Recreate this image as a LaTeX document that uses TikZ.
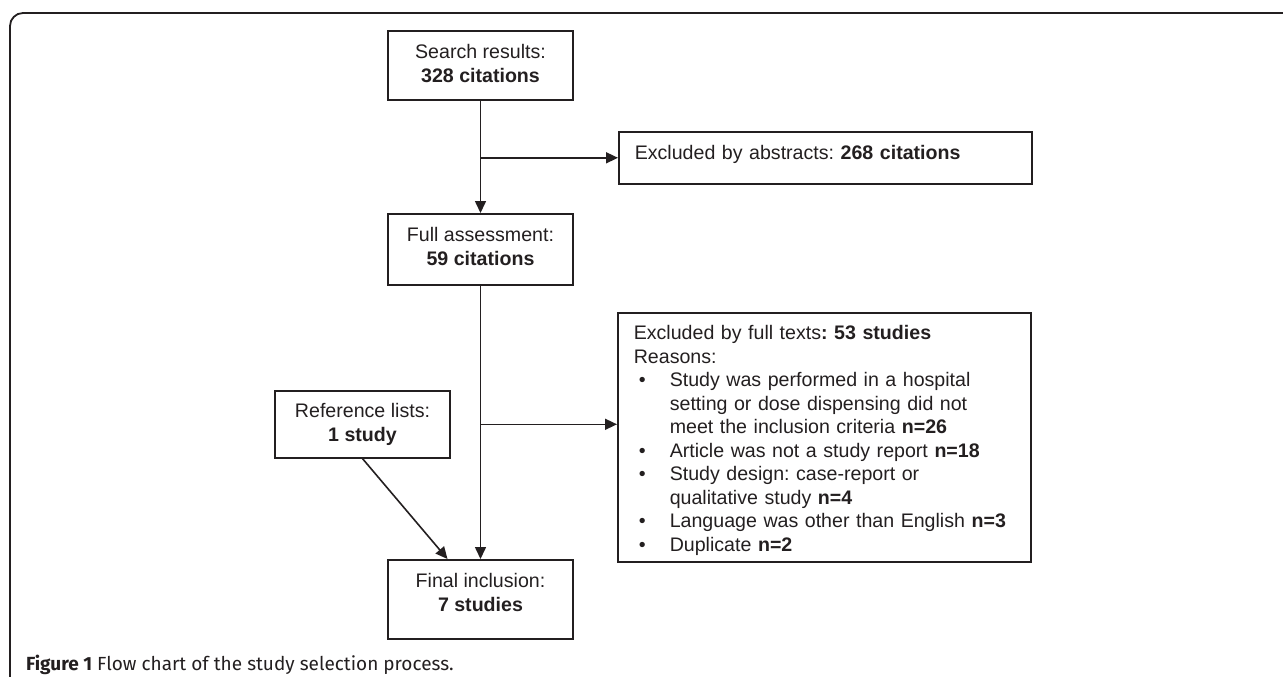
\documentclass[tikz,border=0pt]{standalone}
\usepackage{fontspec}
\setmainfont{Liberation Sans}
\newfontfamily\capfont{Fira Sans}
\usepackage{tikz}
\usetikzlibrary{positioning,arrows.meta,calc}
\definecolor{ink}{HTML}{231F20}
\newcommand{\itm}{\makebox[36pt][l]{\hspace{5pt}\textbullet}}
\newcommand{\cnt}{\hspace{36pt}}
\frenchspacing

\begin{document}
\begin{tikzpicture}[x=1pt, y=-1pt, color=ink, line width=1.6pt,
  >={Triangle[length=12pt,width=11pt]},
  box/.style={draw, rectangle, anchor=north, inner xsep=0pt, inner ysep=0pt,
    text height=51.5pt, align=center, minimum width=185pt,
    font=\fontsize{19.6}{23.5}\selectfont},
  widebox/.style={box, anchor=north west, align=left, inner xsep=16pt,
    text height=28pt, text width=381pt, minimum width=0pt}]
  \useasboundingbox (0,0) rectangle (1283,677);
  \draw[line width=1.8pt, rounded corners=13pt] (10,677) -- (10,13) -- (1283,13);

  \node[box, text depth=17.5pt] (search) at (480.5,30) {Search results:\\\textbf{328 citations}};
  \node[widebox, text depth=24pt] (excl1) at (618,131) {Excluded by abstracts: \textbf{268 citations}};
  \node[box, text depth=19.5pt] (full) at (480.5,213) {Full assessment:\\\textbf{59 citations}};
  \node[widebox, text height=27pt, text depth=222pt] (excl2) at (617,312)
  {Excluded by full texts\textbf{: 53 studies}\\
   Reasons:\\
   \itm Study was performed in a hospital\\
   \cnt setting or dose dispensing did not\\
   \cnt meet the inclusion criteria \textbf{n=26}\\
   \itm Article was not a study report \textbf{n=18}\\
   \itm Study design: case-report or\\
   \cnt qualitative study \textbf{n=4}\\
   \itm Language was other than English \textbf{n=3}\\
   \itm Duplicate \textbf{n=2}};
  \node[box, minimum width=175pt, text height=50.5pt, text depth=16.5pt] (reflist) at (362.5,390) {Reference lists:\\\textbf{1 study}};
  \node[box, text depth=27.5pt] (final) at (480.5,559) {Final inclusion:\\\textbf{7 studies}};
  \node[anchor=west, font=\capfont\fontsize{19}{22}\selectfont] (caption) at (22,665)
  {\textbf{Figure 1} Flow chart of the study selection process.};

  \coordinate (jA) at (search.south |- excl1.west);
  \coordinate (jB) at (full.south |- reflist.east);
  \coordinate (finin) at ([xshift=-33pt]final.north);

  \path[->]
  (search) edge (full)
  (jA) edge (excl1)
  (full) edge (final)
  (jB) edge (jB -| excl2.west)
  (reflist.south) edge (finin);
\end{tikzpicture}
\end{document}
